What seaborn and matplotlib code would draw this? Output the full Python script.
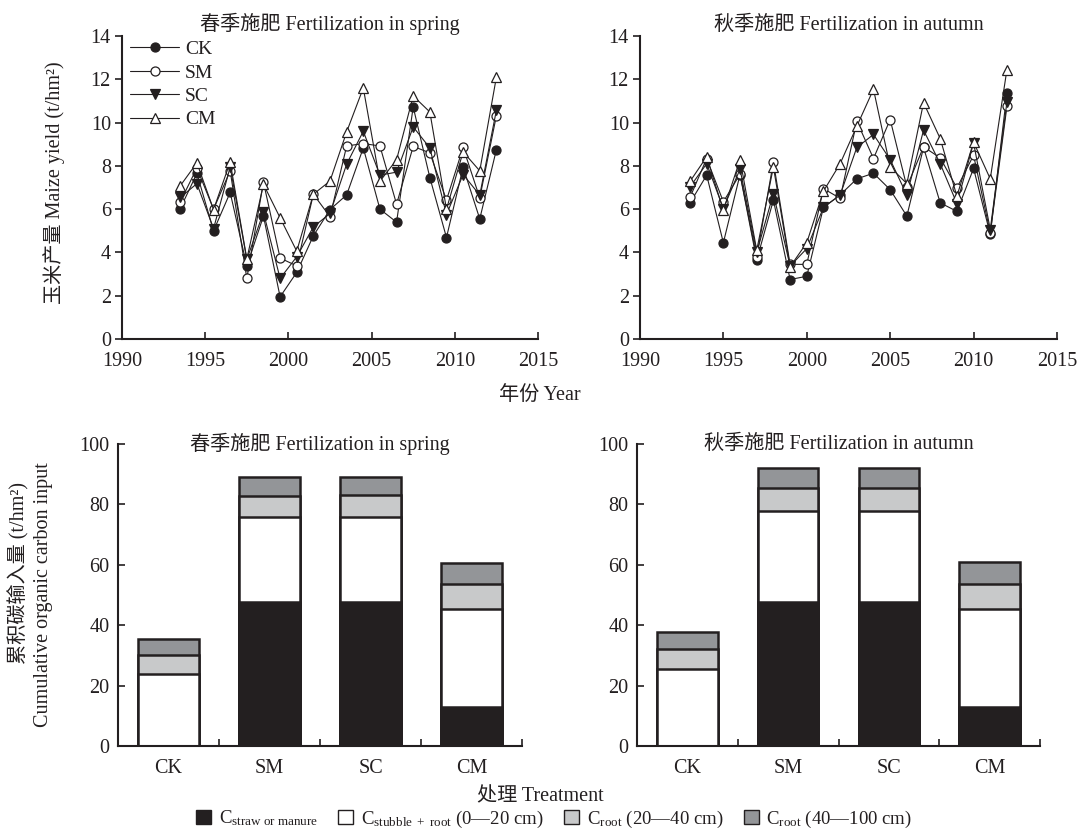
import numpy as np
import pandas as pd
import matplotlib
matplotlib.use("Agg")
import matplotlib.pyplot as plt
import seaborn as sns
from matplotlib.patches import Patch

# ----------------------------
# dados
# ----------------------------
anos_primavera = [1993.5 + i for i in range(20)]
anos_outono = [1993 + i for i in range(20)]

primavera_CK = [6.03, 7.65, 5.0, 6.77, 3.37, 5.68, 1.95, 3.08, 4.77, 5.98,
                6.66, 8.83, 6.0, 5.4, 10.72, 7.46, 4.69, 7.94, 5.55, 8.75]
primavera_SM = [6.34, 7.9, 6.0, 7.77, 2.8, 7.25, 3.74, 3.38, 6.69, 5.65,
                8.92, 9.03, 8.92, 6.23, 8.9, 8.6, 6.42, 8.85, 6.52, 10.32]
primavera_SC = [6.54, 7.18, 5.1, 7.95, 3.68, 5.85, 2.8, 3.8, 5.18, 5.8,
                8.08, 9.6, 7.57, 7.71, 9.8, 8.83, 5.75, 7.6, 6.65, 10.57]
primavera_CM = [7.08, 8.14, 5.98, 8.18, 3.7, 7.15, 5.6, 4.06, 6.69, 7.3,
                9.57, 11.6, 7.29, 8.28, 11.23, 10.49, 6.0, 8.65, 7.77, 12.1]

outono_CK = [6.29, 7.57, 4.45, 7.6, 3.65, 6.42, 2.75, 2.9, 6.08, 6.66,
             7.4, 7.66, 6.9, 5.68, 8.85, 6.29, 5.9, 7.88, 4.83, 11.37]
outono_SM = [6.54, 8.34, 6.34, 7.62, 3.8, 8.18, 3.45, 3.45, 6.95, 6.5,
             10.06, 8.34, 10.14, 7.03, 8.88, 8.37, 6.98, 8.49, 4.9, 10.75]
outono_SC = [7.03, 8.1, 6.03, 7.85, 4.0, 6.72, 3.37, 4.18, 6.08, 6.65,
             8.85, 9.45, 8.29, 6.65, 9.65, 8.1, 6.26, 9.06, 5.06, 10.95]
outono_CM = [7.28, 8.42, 5.95, 8.29, 4.1, 7.95, 3.34, 4.45, 6.83, 8.1,
             9.83, 11.54, 7.95, 7.18, 10.92, 9.26, 6.6, 9.1, 7.4, 12.45]

tratamentos = ["CK", "SM", "SC", "CM"]

# segmentos das barras (t/hm2)
prim_palha = [0.0, 47.8, 47.8, 12.8]
prim_resteva = [23.8, 27.9, 27.9, 32.5]
prim_raiz_20_40 = [6.3, 7.0, 7.3, 8.3]
prim_raiz_40_100 = [5.3, 6.3, 6.1, 7.1]

out_palha = [0.0, 47.8, 47.8, 12.8]
out_resteva = [25.5, 30.0, 30.0, 32.6]
out_raiz_20_40 = [6.5, 7.5, 7.5, 8.1]
out_raiz_40_100 = [5.7, 6.6, 6.6, 7.3]

# ----------------------------
# estilo
# ----------------------------
sns.set_theme(style="ticks")
plt.rcParams["font.family"] = ["Liberation Serif", "Noto Sans CJK SC"]
plt.rcParams["mathtext.fontset"] = "custom"
plt.rcParams["mathtext.rm"] = "Liberation Serif"
plt.rcParams["mathtext.it"] = "Liberation Serif:italic"
plt.rcParams["axes.linewidth"] = 1.5
plt.rcParams["text.color"] = "#231f20"
plt.rcParams["axes.labelcolor"] = "#231f20"
plt.rcParams["xtick.color"] = "#231f20"
plt.rcParams["ytick.color"] = "#231f20"
plt.rcParams["axes.edgecolor"] = "#231f20"

fs = 14.5
preto = "#231f20"
cores = ["#231f20", "#ffffff", "#c8c9ca", "#939598"]

fig = plt.figure(figsize=(10.79, 8.39), dpi=100)

ax1 = fig.add_axes([0.1131, 0.5959, 0.3855, 0.3612])
ax2 = fig.add_axes([0.5931, 0.5959, 0.3865, 0.3612])
ax3 = fig.add_axes([0.1094, 0.1108, 0.3744, 0.3600])
ax4 = fig.add_axes([0.5904, 0.1108, 0.3735, 0.3600])

marcadores = {"CK": ("o", preto), "SM": ("o", "white"),
              "SC": ("v", preto), "CM": ("^", "white")}


def linhas(ax, anos, series, titulo, legenda=False):
    for nome, vals in zip(tratamentos, series):
        m, fc = marcadores[nome]
        sns.lineplot(x=anos, y=vals, ax=ax, color=preto, lw=0.8,
                     marker=m, markerfacecolor=fc, markeredgecolor=preto,
                     markeredgewidth=0.9, markersize=6.5, label=nome,
                     legend=False)
    ax.set_xlim(1990, 2015)
    ax.set_ylim(0, 14)
    ax.set_xticks(range(1990, 2016, 5))
    ax.set_yticks(range(0, 15, 2))
    ax.tick_params(axis="x", direction="in", length=5, width=1.2, labelsize=fs, pad=9)
    ax.tick_params(axis="y", direction="out", length=5, width=1.2, labelsize=fs, pad=3)
    sns.despine(ax=ax)
    ax.set_title(titulo, fontsize=fs, pad=4)
    ax.set_xlabel("")
    ax.set_ylabel("")
    if legenda:
        ax.legend(loc="upper left", bbox_to_anchor=(0.02, 0.985),
                  frameon=False, fontsize=fs - 0.5, handlelength=2.5,
                  handletextpad=0.3, labelspacing=0.3, borderpad=0,
                  borderaxespad=0)


linhas(ax1, anos_primavera, [primavera_CK, primavera_SM, primavera_SC, primavera_CM],
       "春季施肥 Fertilization in spring", legenda=True)
linhas(ax2, anos_outono, [outono_CK, outono_SM, outono_SC, outono_CM],
       "秋季施肥 Fertilization in autumn")


def barras(ax, segs, titulo):
    acum = np.cumsum(np.array(segs), axis=0)
    # desenhar do topo para baixo (barras empilhadas)
    for i in range(3, -1, -1):
        df = pd.DataFrame({"trat": tratamentos, "v": acum[i]})
        sns.barplot(data=df, x="trat", y="v", ax=ax, color=cores[i],
                    saturation=1, width=0.6, edgecolor=preto, linewidth=1.8)
    ax.set_xlim(-0.5, 3.5)
    ax.set_ylim(0, 100)
    ax.set_yticks(range(0, 101, 20))
    ax.set_xticks([0.5, 1.5, 2.5, 3.5], minor=True)
    ax.tick_params(axis="x", which="major", length=0, labelsize=fs, pad=9)
    ax.tick_params(axis="x", which="minor", direction="in", length=5, width=1.2)
    ax.tick_params(axis="y", direction="in", length=5, width=1.2, labelsize=fs, pad=6)
    sns.despine(ax=ax)
    ax.set_xlabel("")
    ax.set_ylabel("")
    ax.text(0.5, 1.0, titulo, transform=ax.transAxes, ha="center",
            va="center", fontsize=fs)


barras(ax3, [prim_palha, prim_resteva, prim_raiz_20_40, prim_raiz_40_100],
       "春季施肥 Fertilization in spring")
barras(ax4, [out_palha, out_resteva, out_raiz_20_40, out_raiz_40_100],
       "秋季施肥 Fertilization in autumn")

# ----------------------------
# rotulos gerais
# ----------------------------
fig.text(540 / 1079, 1 - 395 / 839, "年份 Year", ha="center", va="center", fontsize=fs)
fig.text(540 / 1079, 1 - 797 / 839, "处理 Treatment", ha="center", va="center", fontsize=fs)
fig.text(54 / 1079, 1 - 183 / 839, "玉米产量 Maize yield (t/hm²)", rotation=90,
         ha="center", va="center", fontsize=fs)
fig.text(19 / 1079, 1 - 573 / 839, "累积碳输入量 (t/hm²)", rotation=90,
         ha="center", va="center", fontsize=fs)
fig.text(44 / 1079, 1 - 595 / 839, "Cumulative organic carbon input", rotation=90,
         ha="center", va="center", fontsize=fs)

rotulos = [r"C$_{\mathrm{straw\ or\ manure}}$",
           r"C$_{\mathrm{stubble\ +\ root}}$ (0—20 cm)",
           r"C$_{\mathrm{root}}$ (20—40 cm)",
           r"C$_{\mathrm{root}}$ (40—100 cm)"]
alcas = [Patch(facecolor=c, edgecolor=preto, linewidth=1.0) for c in cores]
fig.legend(alcas, rotulos, loc="center", bbox_to_anchor=(554 / 1079, 1 - 819 / 839),
           ncol=4, frameon=False, fontsize=fs - 1, handlelength=0.8,
           handleheight=0.8, handletextpad=0.4, columnspacing=1.1)

fig.savefig("out.png", dpi=100)
plt.close(fig)
